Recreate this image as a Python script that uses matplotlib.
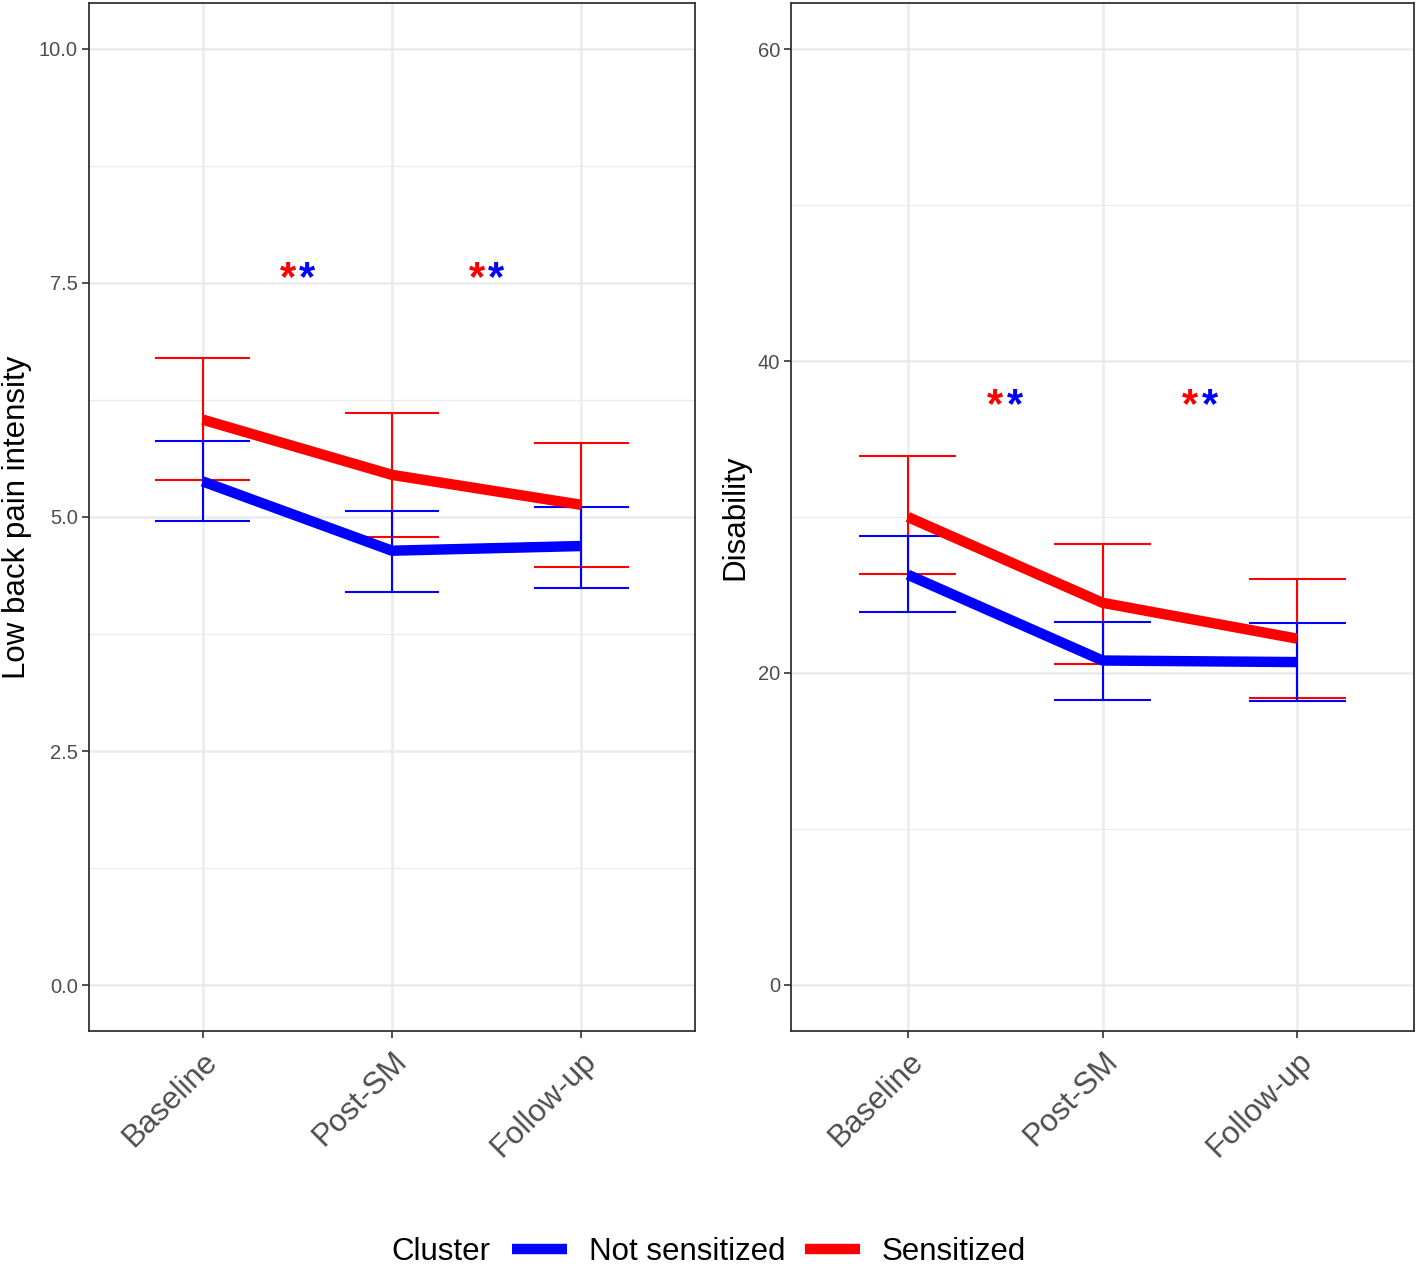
import matplotlib
matplotlib.use("Agg")
import matplotlib.pyplot as plt
import numpy as np

plt.rcParams['font.family'] = ['Liberation Sans', 'DejaVu Sans']

# Data
waktu = ['Baseline', 'Post-SM', 'Follow-up']

# Low back pain intensity
nyeri_sens = [6.04, 5.45, 5.13]
nyeri_sens_atas = [6.70, 6.11, 5.79]
nyeri_sens_bawah = [5.40, 4.79, 4.47]
nyeri_tidak = [5.38, 4.64, 4.69]
nyeri_tidak_atas = [5.81, 5.06, 5.11]
nyeri_tidak_bawah = [4.96, 4.20, 4.24]

# Disability
dis_sens = [30.0, 24.5, 22.2]
dis_sens_atas = [33.9, 28.3, 26.0]
dis_sens_bawah = [26.35, 20.6, 18.4]
dis_tidak = [26.3, 20.8, 20.7]
dis_tidak_atas = [28.8, 23.3, 23.2]
dis_tidak_bawah = [23.9, 18.3, 18.2]

# significance stars between time points
bintang_x = [1.5, 2.5]
bintang_nyeri = 7.54
bintang_dis = 37.12

MERAH = '#FF0000'
BIRU = '#0000FF'
ABU = '#EBEBEB'

fig = plt.figure(figsize=(14.18, 12.67), dpi=100)
ax1 = fig.add_axes([89 / 1418, 1 - 1031 / 1267, 606 / 1418, 1028 / 1267])
ax2 = fig.add_axes([791 / 1418, 1 - 1031 / 1267, 623 / 1418, 1028 / 1267])

x = np.arange(1, len(waktu) + 1)


def gambar_panel(ax, sens, sa, sb, tidak, ta, tb, yticks, ylim, minor, fmt, ylabel, ybin):
    # errorbars
    for m, atas, bawah, warna in [(sens, sa, sb, MERAH), (tidak, ta, tb, BIRU)]:
        ax.vlines(x, bawah, atas, color=warna, lw=1.5, zorder=3)
        ax.hlines(atas, x - 0.25, x + 0.25, color=warna, lw=1.5, zorder=3)
        ax.hlines(bawah, x - 0.25, x + 0.25, color=warna, lw=1.5, zorder=3)
    ax.plot(x, sens, color=MERAH, lw=7.5, zorder=4, solid_capstyle='butt', label='Sensitized')
    ax.plot(x, tidak, color=BIRU, lw=7.5, zorder=5, solid_capstyle='butt', label='Not sensitized')

    for bx in bintang_x:
        ax.text(bx - 0.05, ybin, '*', color=MERAH, fontsize=30, fontweight='bold',
                ha='center', va='center', zorder=6)
        ax.text(bx + 0.05, ybin, '*', color=BIRU, fontsize=30, fontweight='bold',
                ha='center', va='center', zorder=6)

    ax.set_xlim(0.4, 3.6)
    ax.set_ylim(*ylim)
    ax.set_xticks(x)
    ax.set_xticklabels(waktu, rotation=45, ha='right', va='top', rotation_mode='anchor',
                       fontsize=22.5, color='#4D4D4D')
    ax.set_yticks(yticks)
    ax.set_yticklabels([fmt.format(v) for v in yticks], fontsize=14.5, color='#4D4D4D')
    ax.set_yticks(minor, minor=True)
    ax.tick_params(axis='y', which='minor', length=0)
    ax.tick_params(axis='both', which='major', length=5, width=1.2, color='#333333')
    ax.tick_params(axis='x', pad=6)
    ax.tick_params(axis='y', pad=3)
    ax.set_xticks([], minor=True)
    ax.grid(True, which='major', color=ABU, lw=1.8, zorder=0)
    ax.grid(True, which='minor', axis='y', color=ABU, lw=0.9, zorder=0)
    ax.set_axisbelow(True)
    for sp in ax.spines.values():
        sp.set_color('#333333')
        sp.set_linewidth(1.3)
    ax.set_ylabel(ylabel, fontsize=22.5, labelpad=5)


gambar_panel(ax1, nyeri_sens, nyeri_sens_atas, nyeri_sens_bawah,
             nyeri_tidak, nyeri_tidak_atas, nyeri_tidak_bawah,
             [0, 2.5, 5, 7.5, 10], (-0.49, 10.49), [1.25, 3.75, 6.25, 8.75],
             '{:.1f}', 'Low back pain intensity', bintang_nyeri)
gambar_panel(ax2, dis_sens, dis_sens_atas, dis_sens_bawah,
             dis_tidak, dis_tidak_atas, dis_tidak_bawah,
             [0, 20, 40, 60], (-2.95, 62.95), [10, 30, 50],
             '{:.0f}', 'Disability', bintang_dis)

# legend at bottom
h, l = ax1.get_legend_handles_labels()
fig.text(391 / 1418, 1 - 1252 / 1267, 'Cluster', fontsize=22.5, ha='left', va='center')
fig.legend([h[1], h[0]], [l[1], l[0]], loc='center left', bbox_to_anchor=(512 / 1418, 1 - 1252 / 1267),
           ncol=2, frameon=False, fontsize=22.5, handlelength=1.75, handletextpad=0.7,
           columnspacing=0.65, borderpad=0, borderaxespad=0)

plt.savefig('out.png', dpi=100)
